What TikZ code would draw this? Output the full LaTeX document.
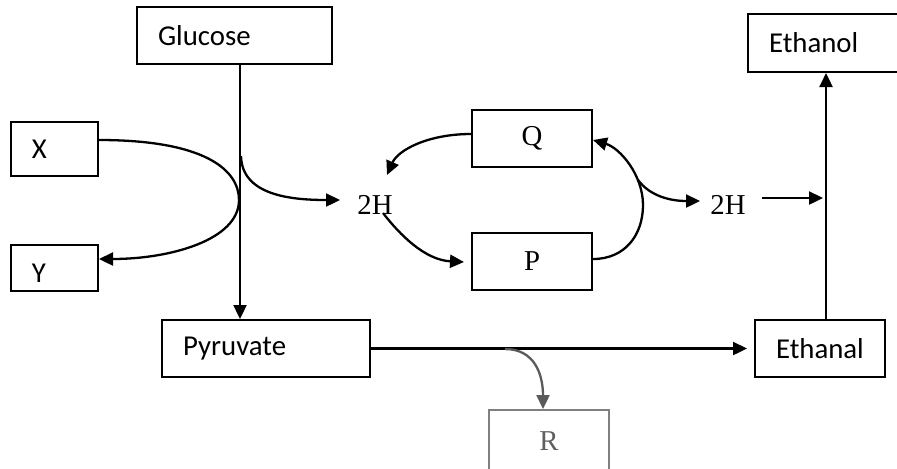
\documentclass[tikz,border=0pt]{standalone}
\usepackage{fontspec}
\setmainfont{Liberation Serif}
\newfontfamily\carl{Carlito}
\usetikzlibrary{arrows.meta}
\definecolor{rgray}{RGB}{128,128,128}
\definecolor{rtext}{RGB}{95,95,95}
\definecolor{agray}{RGB}{90,90,90}
\begin{document}
\begin{tikzpicture}[x=0.5pt,y=-0.5pt,
  lbox/.style={draw, line width=1pt, font=\carl\fontsize{14.4}{17}\selectfont, align=left, inner xsep=10.5pt, inner ysep=2pt, minimum height=28.5pt},
  sbox/.style={draw, line width=1pt, font=\fontsize{14.4}{17}\selectfont, minimum width=60pt, minimum height=28.5pt, inner sep=0pt},
  htext/.style={font=\fontsize{14.4}{17}\selectfont, inner sep=0pt},
  conn/.style={line width=1.15pt, -{Triangle[length=7pt,width=6.5pt]}}]
\useasboundingbox (0,0) rectangle (897,468);
% boxes
\node[lbox, text width=76.5pt] (glu) at (234.5,35.5) {Glucose};
\node[lbox, text width=22.5pt, minimum height=27pt] (X) at (54.5,149) {X};
\node[lbox, text width=22.5pt, minimum height=23pt, text height=14.3pt, text depth=0pt] (Y) at (54.5,268) {Y};
\node[lbox, text width=83pt] (pyr) at (266,348.5) {Pyruvate};
\node[lbox, text width=44pt] (eal) at (820,348.5) {Ethanal};
\node[lbox, text width=64pt, minimum height=29pt] (eol) at (833,43) {Ethanol};
\node[sbox] (Q) at (532,138.5) {Q};
\node[sbox] (P) at (532,261.5) {P};
\node[sbox, draw=rgray, text=rtext, minimum height=31pt] (R) at (549,441) {R};
\node[htext] (H1) at (375,205) {2H};
\node[htext] (H2) at (728,205) {2H};
% helper coordinates
\coordinate (trunk) at (240,0);
\coordinate (etrunk) at (826,0);
\coordinate (b1) at (241,156);
\coordinate (b2) at (638,180);
\coordinate (b3) at (505,349);
% connectors
\draw[conn] (glu.south -| trunk) -- (pyr.north -| trunk);
\draw[conn] ([yshift=4.5pt]X.east) .. controls (205,140) and (239,170) .. (239,200) .. controls (239,240) and (170,259) .. ([yshift=4.5pt]Y.east);
\draw[conn] (b1) .. controls (242,195) and (290,200) .. ([shift={(-35,-5)}]H1.center);
\draw[conn] ([yshift=2.25pt]Q.west) .. controls (428,134) and (398,150) .. ([shift={(12,-30)}]H1.center);
\draw[conn] ([shift={(8,8)}]H1.center) .. controls (400,235) and (425,260) .. ([xshift=-3.5pt,yshift=-0.25pt]P.west);
\draw[conn] ([yshift=1.25pt]P.east) .. controls (625,259) and (643,235) .. (643,205) .. controls (643,175) and (620,148) .. ([yshift=-0.75pt]Q.east);
\draw[conn] (b2) .. controls (650,196) and (670,201) .. ([shift={(-28,-4)}]H2.center);
\draw[conn] ([shift={(34,-7)}]H2.center) -- ([shift={(95,-7)}]H2.center);
\draw[conn] (pyr.east) -- ([xshift=-3.5pt]eal.west);
\draw[conn, draw=agray] (b3) .. controls (535,349) and (543,375) .. ([xshift=-3pt]R.north);
\draw[conn] (eal.north -| etrunk) -- (eol.south -| etrunk);
\end{tikzpicture}
\end{document}
